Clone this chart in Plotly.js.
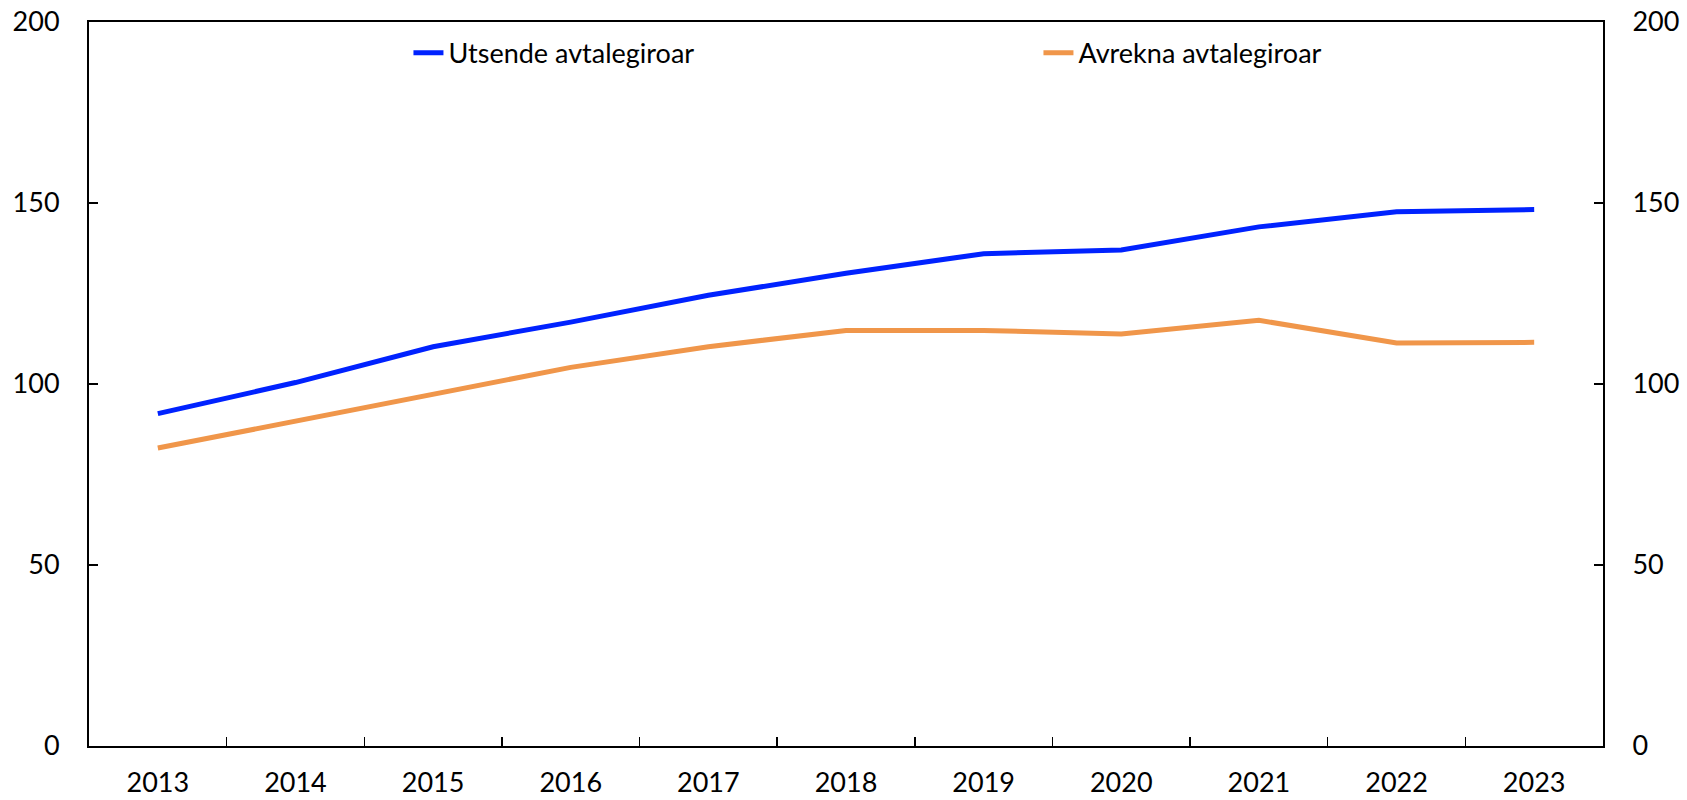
<!DOCTYPE html>
<html>
<head>
<meta charset="utf-8">
<script src="https://cdn.plot.ly/plotly-3.0.1.min.js"></script>
<style>html,body{margin:0;padding:0;background:#fff;}#chart{width:1687px;height:800px;}</style>
</head>
<body>
<div id="chart"></div>
<script>
const years = ["2013","2014","2015","2016","2017","2018","2019","2020","2021","2022","2023"];
const utsende = [91.8, 100.4, 110.3, 117.1, 124.5, 130.6, 136.0, 137.0, 143.4, 147.6, 148.2];
const avrekna = [82.3, 89.7, 97.0, 104.6, 110.3, 114.8, 114.8, 113.8, 117.6, 111.3, 111.5];
const seriesNames = ["Utsende avtalegiroar", "Avrekna avtalegiroar"];
const yTicks = [0, 50, 100, 150, 200];

const font = {family: "Lato, 'Open Sans', sans-serif", size: 27, color: "#000"};

const traces = [
  {x: years, y: utsende, name: seriesNames[0], type: "scatter", mode: "lines",
   line: {color: "#0022FF", width: 5}},
  {x: years, y: avrekna, name: seriesNames[1], type: "scatter", mode: "lines",
   line: {color: "#F0964A", width: 5}},
  {x: years, y: utsende, yaxis: "y2", type: "scatter", mode: "lines", showlegend: false,
   hoverinfo: "skip", line: {color: "rgba(0,0,0,0)", width: 0}}
];

const layout = {
  width: 1687, height: 800,
  margin: {l: 89, r: 84, t: 22, b: 54},
  paper_bgcolor: "#fff", plot_bgcolor: "#fff",
  font: font,
  showlegend: true,
  legend: {orientation: "h", x: 0.211, y: 0.957,
           xanchor: "left", yanchor: "middle",
           entrywidth: 585, entrywidthmode: "pixels", font: font, bgcolor: "rgba(0,0,0,0)",
           itemwidth: 30},
  xaxis: {type: "category", range: [-0.5, 10.5], tickson: "boundaries", ticks: "inside", ticklen: 9, tickwidth: 1.5,
          tickcolor: "#000", showline: true, linecolor: "#000", linewidth: 2, mirror: true,
          showgrid: false, zeroline: false, ticklabelstandoff: 12, tickfont: font},
  yaxis: {range: [0, 200], tickvals: yTicks, ticks: "inside", ticklen: 9, tickwidth: 1.5,
          tickcolor: "#000", showline: true, linecolor: "#000", linewidth: 2,
          showgrid: false, zeroline: false, ticklabelstandoff: 22, tickfont: font},
  yaxis2: {range: [0, 200], tickvals: yTicks, overlaying: "y", side: "right", ticks: "inside",
           ticklen: 9, tickwidth: 1.5, tickcolor: "#000", showline: true, linecolor: "#000",
           linewidth: 2, showgrid: false, zeroline: false, ticklabelstandoff: 22, tickfont: font}
};

Plotly.newPlot("chart", traces, layout, {displayModeBar: false, staticPlot: true});
</script>
</body>
</html>
